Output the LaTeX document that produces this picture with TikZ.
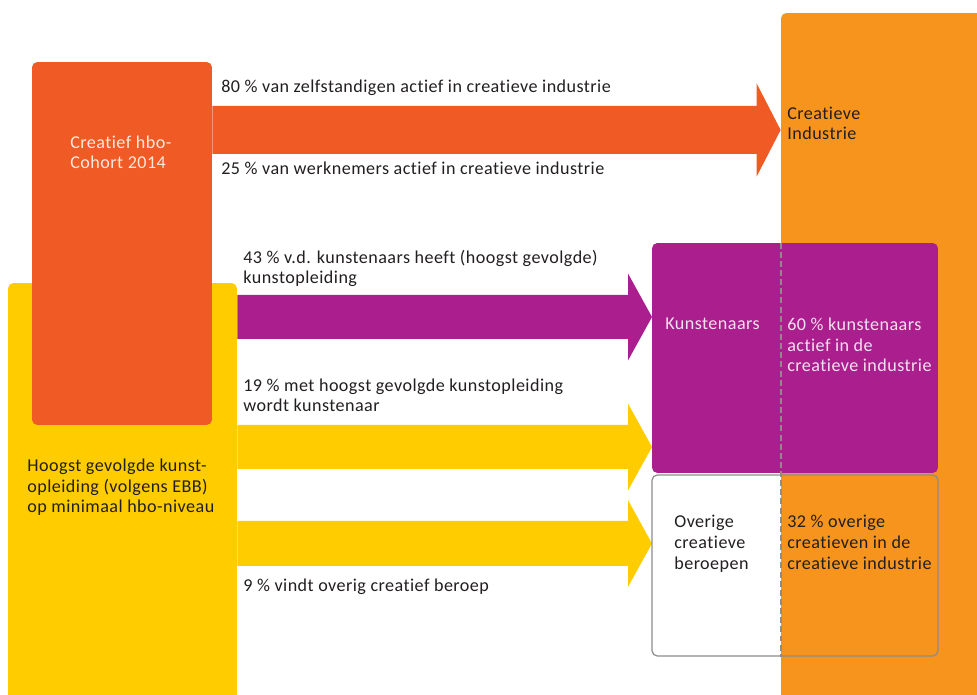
\documentclass[tikz,border=0pt]{standalone}
\usepackage{fontspec}
\setmainfont{Carlito}[LetterSpace=2.5,Ligatures={NoCommon}]
\usetikzlibrary{positioning,calc}
\definecolor{rood}{RGB}{240,90,36}
\definecolor{geel}{RGB}{255,204,0}
\definecolor{oranje}{RGB}{247,148,30}
\definecolor{paars}{RGB}{170,31,141}
\definecolor{grijs}{RGB}{140,140,140}
\definecolor{inkt}{RGB}{35,31,32}
\tikzset{
  vlak/.style ={rounded corners=3pt,inner sep=0pt,minimum width=#1},
  txt/.style  ={font=\fontsize{10.3}{11.9}\selectfont,align=left,inner sep=0pt,anchor=base west,text=inkt},
  wtxt/.style ={txt,text=white!86!#1},
  streep/.style={grijs,line width=1pt,dash pattern=on 3.4pt off 1.8pt},
}
% brede pijl: kleur, begin, punt, halve schachtbreedte, halve kopbreedte
\newcommand{\pijl}[5]{%
  \fill[#1] ($(#2)+(0,-#4)$) -- ($(#3)+(-24,-#4)$) -- ($(#3)+(-24,-#5)$) -- (#3)
    -- ($(#3)+(-24,#5)$) -- ($(#3)+(-24,#4)$) -- ($(#2)+(0,#4)$) -- cycle;
}

\begin{document}
\begin{tikzpicture}[x=0.02cm,y=-0.02cm]
\useasboundingbox (0,0) rectangle (977,695);

% ===================== VLAKKEN ======================================
\node[vlak=4.18cm,fill=oranje,minimum height=13.94cm] (industrie) at (885.5,361.5) {};
\node[vlak=4.58cm,fill=geel,minimum height=8.54cm]    (hoogst)    at (122.5,496.5) {};
\node[vlak=3.6cm,fill=rood,minimum height=7.26cm]     (cohort)    at (122,243.5)   {};

% ===================== PIJLEN =======================================
\coordinate (p1s) at (cohort.east |- 0,130);
\coordinate (p1e) at (industrie.west |- 0,130);
\coordinate (p2s) at (hoogst.east |- 0,317);
\coordinate (p2e) at (652,317);
\coordinate (p3s) at (hoogst.east |- 0,447);
\coordinate (p3e) at (652,447);
\coordinate (p4s) at (hoogst.east |- 0,543.5);
\coordinate (p4e) at (652,543.5);
\pijl{rood}{p1s}{p1e}{24}{46.5}
\pijl{paars}{p2s}{p2e}{22}{43.5}
\pijl{geel}{p3s}{p3e}{22}{43.5}
\pijl{geel}{p4s}{p4e}{22.5}{43.5}

% ===================== DOELEN =======================================
\node[vlak=5.72cm,fill=paars,minimum height=4.6cm] (kunst) at (795,358) {};
\node[vlak=5.72cm,draw=grijs,line width=.7pt,minimum height=3.62cm] (overig) at (795,565.5) {};
\draw[streep] (kunst.north -| industrie.west) -- (overig.south -| industrie.west);

% ===================== TEKSTEN ======================================
% (bij meer regels: basislijn van de laatste regel)
\node[wtxt=rood] (tcohort) at (70,169) {Creatief hbo-\\Cohort 2014};
\node[txt] (t80) at (221,93)  {80 \% van zelfstandigen actief in creatieve industrie};
\node[txt] (t25) at (221,175) {25 \% van werknemers actief in creatieve industrie};
\node[txt] (t43) at (243,284) {43 \% v.d. kunstenaars heeft (hoogst gevolgde)\\kunstopleiding};
\node[txt] (t19) at (243,412) {19 \% met hoogst gevolgde kunstopleiding\\wordt kunstenaar};
\node[txt] (t9)  at (243,591) {9 \% vindt overig creatief beroep};
\node[txt] (thoogst) at (27,513) {Hoogst gevolgde kunst-\\opleiding (volgens EBB)\\op minimaal hbo-niveau};
\node[txt] (tind) at (787,140) {Creatieve\\Industrie};
\node[wtxt=paars] (tkunst) at (665,330) {Kunstenaars};
\node[wtxt=paars] (t60) at (787,372) {60 \% kunstenaars\\actief in de\\creatieve industrie};
\node[txt] (tover) at (674,569) {Overige\\creatieve\\beroepen};
\node[txt] (t32)   at (787,569) {32 \% overige\\creatieven in de\\creatieve industrie};

\end{tikzpicture}
\end{document}
